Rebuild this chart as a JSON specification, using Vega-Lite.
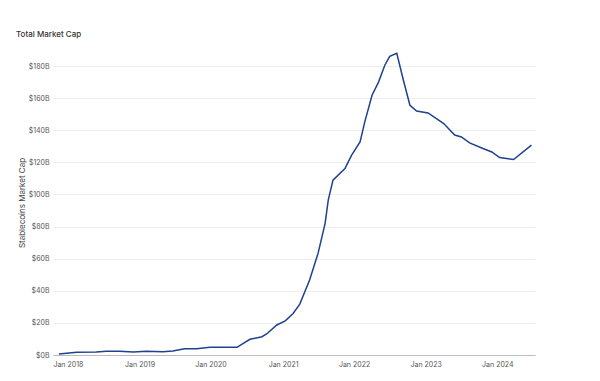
{
  "$schema": "https://vega.github.io/schema/vega-lite/v6.json",
  "width": 482,
  "height": 305,
  "autosize": {"type": "none"},
  "padding": {"left": 53, "top": 50, "right": 65, "bottom": 26},
  "background": "white",
  "title": {
    "text": "Total Market Cap",
    "anchor": "start",
    "frame": "group",
    "dx": -37,
    "offset": 11,
    "fontSize": 8,
    "fontWeight": 500,
    "font": "Inter",
    "color": "#333333"
  },
  "config": {
    "view": {"stroke": null},
    "font": "Inter"
  },
  "data": {
    "values": [
      {"date": "2017-09-01", "cap": 0.6},
      {"date": "2017-12-01", "cap": 1.7},
      {"date": "2018-03-10", "cap": 1.8},
      {"date": "2018-05-01", "cap": 2.3},
      {"date": "2018-07-07", "cap": 2.3},
      {"date": "2018-09-15", "cap": 1.8},
      {"date": "2018-11-21", "cap": 2.3},
      {"date": "2019-02-12", "cap": 2.1},
      {"date": "2019-04-04", "cap": 2.5},
      {"date": "2019-06-04", "cap": 3.9},
      {"date": "2019-08-04", "cap": 3.9},
      {"date": "2019-10-10", "cap": 4.8},
      {"date": "2020-02-25", "cap": 4.8},
      {"date": "2020-05-01", "cap": 9.8},
      {"date": "2020-07-01", "cap": 11.4},
      {"date": "2020-07-25", "cap": 13.1},
      {"date": "2020-09-15", "cap": 18.7},
      {"date": "2020-10-28", "cap": 21.3},
      {"date": "2020-12-07", "cap": 25.9},
      {"date": "2021-01-10", "cap": 31.7},
      {"date": "2021-03-01", "cap": 46.7},
      {"date": "2021-04-13", "cap": 63.3},
      {"date": "2021-05-19", "cap": 82.0},
      {"date": "2021-06-04", "cap": 96.5},
      {"date": "2021-06-28", "cap": 108.9},
      {"date": "2021-08-28", "cap": 116.2},
      {"date": "2021-10-01", "cap": 124.5},
      {"date": "2021-11-13", "cap": 132.7},
      {"date": "2021-12-07", "cap": 145.2},
      {"date": "2022-01-13", "cap": 161.8},
      {"date": "2022-02-15", "cap": 170.0},
      {"date": "2022-03-19", "cap": 180.5},
      {"date": "2022-04-13", "cap": 186.0},
      {"date": "2022-05-19", "cap": 188.0},
      {"date": "2022-06-22", "cap": 171.0},
      {"date": "2022-07-25", "cap": 155.6},
      {"date": "2022-08-28", "cap": 152.0},
      {"date": "2022-10-25", "cap": 150.8},
      {"date": "2022-12-07", "cap": 147.3},
      {"date": "2023-01-13", "cap": 144.2},
      {"date": "2023-03-10", "cap": 137.0},
      {"date": "2023-04-13", "cap": 135.8},
      {"date": "2023-05-25", "cap": 132.1},
      {"date": "2023-08-01", "cap": 128.6},
      {"date": "2023-09-15", "cap": 126.5},
      {"date": "2023-10-25", "cap": 123.0},
      {"date": "2024-01-04", "cap": 121.8},
      {"date": "2024-04-04", "cap": 130.7}
    ]
  },
  "mark": {"type": "line", "color": "#1e428f", "strokeWidth": 1.5, "interpolate": "linear"},
  "encoding": {
    "x": {
      "field": "date",
      "type": "temporal",
      "scale": {"domain": ["2017-08-02", "2024-04-22"]},
      "axis": {
        "title": null,
        "format": "%b %Y",
        "tickCount": {"interval": "year", "step": 1},
        "grid": false,
        "ticks": false,
        "labelAlign": "right",
        "labelFontSize": 7,
        "labelColor": "#555555",
        "labelPadding": 5,
        "domainColor": "#bbbbbb",
        "domainWidth": 1
      }
    },
    "y": {
      "field": "cap",
      "type": "quantitative",
      "scale": {"domain": [0, 190], "nice": false},
      "axis": {
        "title": "Stablecoins Market Cap",
        "titleFontSize": 8,
        "titleFontWeight": "normal",
        "titleColor": "#444444",
        "titlePadding": 2,
        "values": [0, 20, 40, 60, 80, 100, 120, 140, 160, 180],
        "labelExpr": "'$' + datum.value + 'B'",
        "labelFontSize": 7,
        "labelColor": "#555555",
        "labelPadding": 4,
        "ticks": false,
        "domain": false,
        "grid": true,
        "gridColor": "#eeeeee",
        "gridWidth": 1
      }
    }
  }
}
